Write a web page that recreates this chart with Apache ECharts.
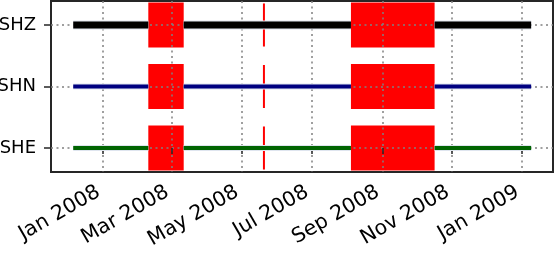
<!DOCTYPE html>
<html>
<head>
<meta charset="utf-8">
<script src="https://cdn.jsdelivr.net/npm/echarts@6/dist/echarts.min.js"></script>
<style>
html,body{margin:0;padding:0;background:#fff;}
#chart{width:555px;height:254px;}
</style>
</head>
<body>
<div id="chart"></div>
<script>
// ---- data ----
const channels = ['SHE', 'SHN', 'SHZ'];          // bottom to top
const lineColors = ['#006400', '#000080', '#000000'];
const lineWidths = [4, 4, 7];
const dataStart = '2007-12-06T00:00';
const dataEnd = '2009-01-09T00:00';
const gapStarts = ['2008-02-09T14:00', '2008-08-04T14:00'];
const gapEnds = ['2008-03-11T12:00', '2008-10-16T16:00'];
const shortGaps = ['2008-05-20T14:00'];
const tickDates = ['2008-01-01T00:00', '2008-03-01T00:00', '2008-05-01T00:00', '2008-07-01T00:00',
                   '2008-09-01T00:00', '2008-11-01T00:00', '2009-01-01T00:00'];
const xMin = '2007-11-16T14:00';
const xMax = '2009-01-28T02:00';
const monthNames = ['Jan','Feb','Mar','Apr','May','Jun','Jul','Aug','Sep','Oct','Nov','Dec'];

const t = s => Date.parse(s + ':00Z');

// build series data
const segData = [];
const gapData = [];
const shortData = [];
channels.forEach((c, i) => {
  const bounds = [t(dataStart)];
  gapStarts.forEach((g, k) => { bounds.push(t(g)); bounds.push(t(gapEnds[k])); });
  bounds.push(t(dataEnd));
  for (let k = 0; k < bounds.length; k += 2) segData.push([bounds[k], bounds[k + 1], i]);
  gapStarts.forEach((g, k) => gapData.push([t(g), t(gapEnds[k]), i]));
  shortGaps.forEach(g => shortData.push([t(g), i]));
});

const chart = echarts.init(document.getElementById('chart'), null, {renderer: 'canvas'});
const gridLine = {show: true, lineStyle: {color: '#808080', width: 1.5, type: [2, 3.5]}};
const tickStyle = {color: '#262626', width: 1.5};

chart.setOption({
  animation: false,
  grid: {left: 51, right: 2, top: 1, bottom: 82, show: true, borderColor: '#262626', borderWidth: 2,
         backgroundColor: 'transparent', containLabel: false, outerBoundsMode: 'none'},
  xAxis: {
    type: 'value', min: t(xMin), max: t(xMax), z: 1,
    axisLine: {show: false},
    axisTick: {show: true, customValues: tickDates.map(t), length: 6, lineStyle: tickStyle},
    axisLabel: {
      customValues: tickDates.map(t), rotate: 30, margin: 16, padding: [0, 5, 0, 0],
      fontFamily: 'DejaVu Sans', fontSize: 20.5, color: '#000',
      formatter: v => { const d = new Date(v); return monthNames[d.getUTCMonth()] + ' ' + d.getUTCFullYear(); }
    },
    splitLine: gridLine
  },
  yAxis: {
    type: 'value', min: -0.39, max: 2.39, z: 1,
    axisLine: {show: false},
    axisTick: {show: true, customValues: [0, 1, 2], length: 7, lineStyle: tickStyle},
    axisLabel: {
      customValues: [0, 1, 2], margin: 15,
      fontFamily: 'DejaVu Sans', fontSize: 18, color: '#000',
      formatter: v => channels[Math.round(v)]
    },
    splitLine: gridLine
  },
  series: [
    {
      type: 'custom', z: 0, data: gapData,
      renderItem: (params, api) => {
        const p1 = api.coord([api.value(0), api.value(2) + 0.365]);
        const p2 = api.coord([api.value(1), api.value(2) - 0.365]);
        return {type: 'rect', shape: {x: p1[0], y: p1[1], width: p2[0] - p1[0], height: p2[1] - p1[1]},
                style: {fill: '#ff0000'}};
      }
    },
    {
      type: 'custom', z: 0, data: shortData,
      renderItem: (params, api) => {
        const p1 = api.coord([api.value(0), api.value(1) + 0.35]);
        const p2 = api.coord([api.value(0), api.value(1) - 0.35]);
        return {type: 'line', shape: {x1: p1[0], y1: p1[1], x2: p2[0], y2: p2[1]},
                style: {stroke: '#ff0000', lineWidth: 2}};
      }
    },
    {
      type: 'custom', z: 3, data: segData,
      renderItem: (params, api) => {
        const ch = api.value(2);
        const p1 = api.coord([api.value(0), ch]);
        const p2 = api.coord([api.value(1), ch]);
        return {type: 'group', children: [
          {type: 'line', shape: {x1: p1[0], y1: p1[1], x2: p2[0], y2: p2[1]},
           style: {stroke: '#dfe5ef', lineWidth: lineWidths[ch] + 2, lineCap: 'butt'}},
          {type: 'line', shape: {x1: p1[0], y1: p1[1], x2: p2[0], y2: p2[1]},
           style: {stroke: lineColors[ch], lineWidth: lineWidths[ch], lineCap: 'butt'}}
        ]};
      }
    }
  ]
});
</script>
</body>
</html>
